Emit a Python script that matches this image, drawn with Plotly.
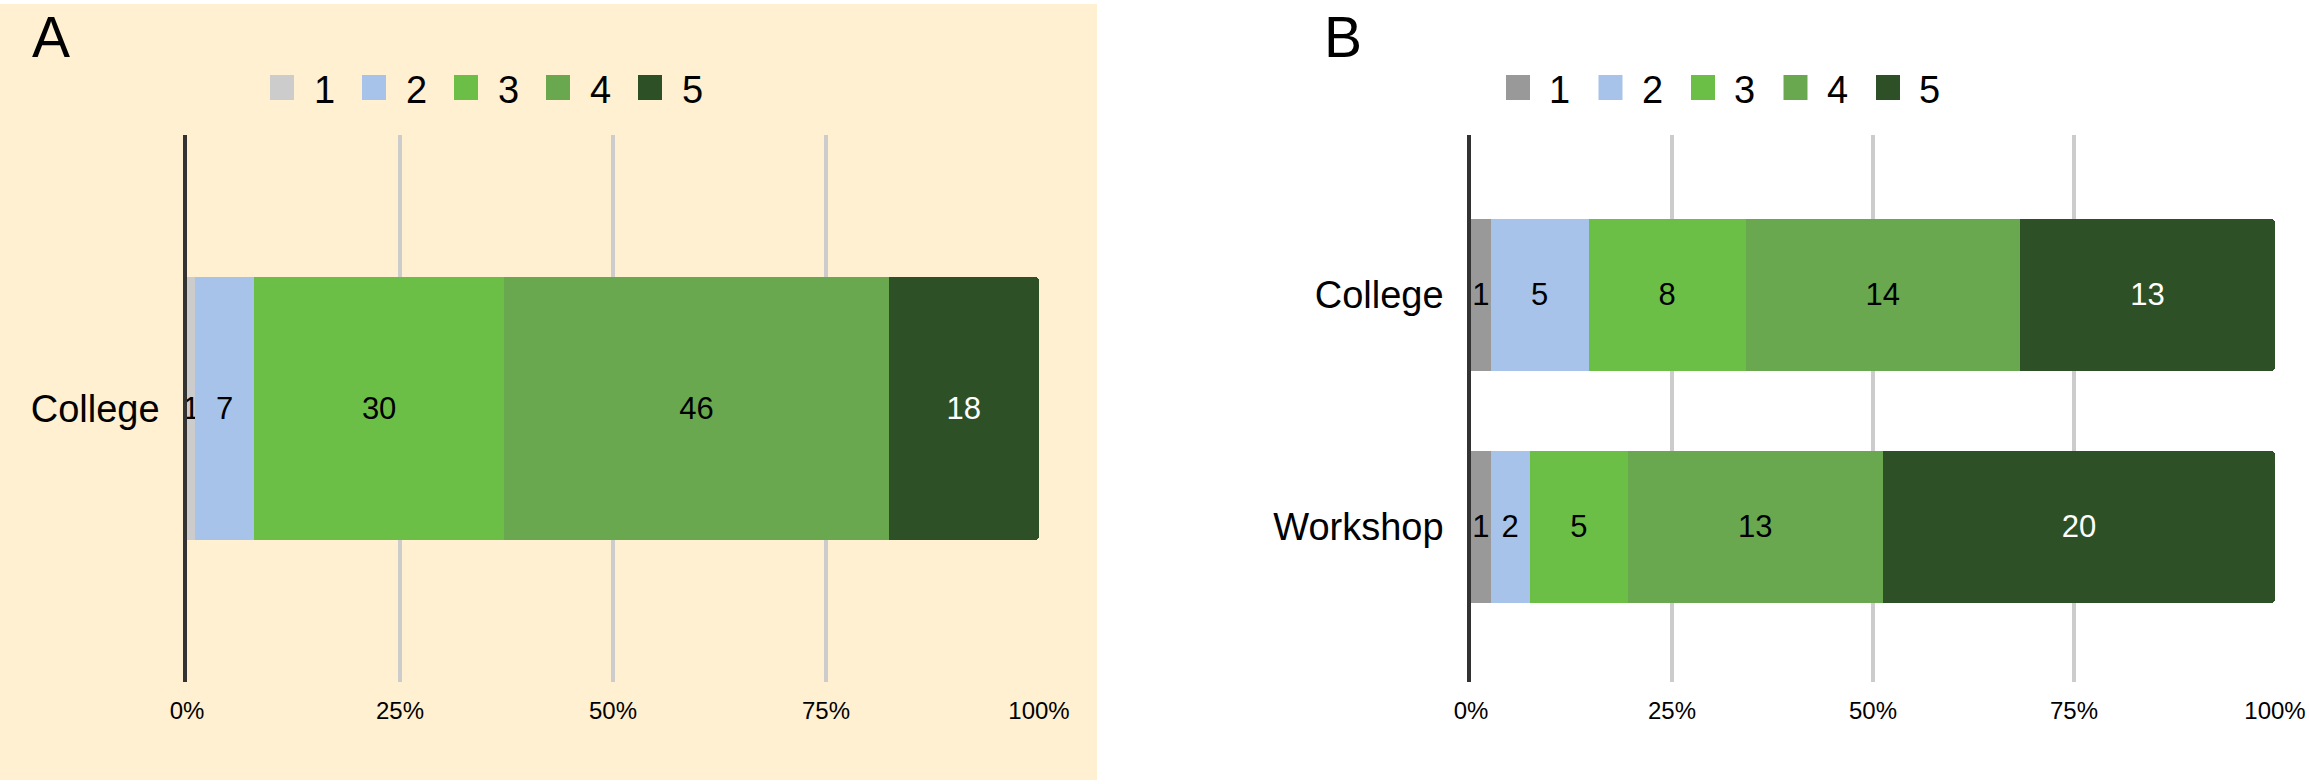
import plotly.graph_objects as go

# --- Data ---
levels = ["1", "2", "3", "4", "5"]

cats_a = ["College"]
counts_a = {"1": [1], "2": [7], "3": [30], "4": [46], "5": [18]}

cats_b = ["College", "Workshop"]
counts_b = {"1": [1, 1], "2": [5, 2], "3": [8, 5], "4": [14, 13], "5": [13, 20]}

pct_ticks = [0, 25, 50, 75, 100]
pct_labels = ["0%", "25%", "50%", "75%", "100%"]

# --- Styles ---
colors_a = ["#cccccc", "#a8c3e9", "#6cbf46", "#6aa84f", "#2d5027"]
colors_b = ["#999999", "#a8c3e9", "#6cbf46", "#6aa84f", "#2d5027"]
text_colors = ["#000000", "#000000", "#000000", "#000000", "#ffffff"]
FONT = "Liberation Sans, Arial, sans-serif"
W, H = 2309, 784


def px(x):
    return x / W


def py(y):
    return 1 - y / H


fig = go.Figure()

for i, lv in enumerate(levels):
    fig.add_trace(go.Bar(
        y=cats_a, x=counts_a[lv], orientation="h", name=lv,
        marker=dict(color=colors_a[i], line=dict(width=0)),
        text=counts_a[lv], textposition="inside", insidetextanchor="middle",
        textangle=0, constraintext="none",
        textfont=dict(size=31, color=text_colors[i], family=FONT),
        width=0.48, xaxis="x", yaxis="y", showlegend=False,
    ))
    fig.add_trace(go.Bar(
        y=cats_b, x=counts_b[lv], orientation="h", name=lv,
        marker=dict(color=colors_b[i], line=dict(width=0)),
        text=counts_b[lv], textposition="inside", insidetextanchor="middle",
        textangle=0, constraintext="none",
        textfont=dict(size=31, color=text_colors[i], family=FONT),
        width=0.656, xaxis="x2", yaxis="y2", showlegend=False,
    ))

xax = dict(
    range=[0, 100], tickvals=pct_ticks, ticktext=pct_labels,
    showgrid=True, gridcolor="#cccccc", gridwidth=3.5,
    zeroline=False, showline=False, ticks="",
    tickfont=dict(size=24, color="#000000", family=FONT),
    ticklabelstandoff=12, fixedrange=True, automargin=False,
)
yax = dict(
    showgrid=False, zeroline=False, showline=True,
    linecolor="#333333", linewidth=3.5, ticks="",
    tickfont=dict(size=38, color="#000000", family=FONT),
    ticklabelstandoff=16, fixedrange=True, automargin=False,
)

fig.update_layout(
    width=W, height=H,
    margin=dict(l=0, r=0, t=0, b=0, autoexpand=False),
    paper_bgcolor="#ffffff",
    plot_bgcolor="rgba(0,0,0,0)",
    barmode="stack", barnorm="percent", barcornerradius=4,
    font=dict(family=FONT, color="#000000"),
    showlegend=False,
    xaxis=dict(xax, domain=[px(187), px(1039)], anchor="y"),
    yaxis=dict(yax, domain=[py(682), py(135)], anchor="x",
               range=[-0.5, 0.5]),
    xaxis2=dict(xax, domain=[px(1471), px(2275)], anchor="y2"),
    yaxis2=dict(yax, domain=[py(682), py(135)], anchor="x2",
                range=[1.669, -0.69]),
)

# panel A background
fig.add_shape(type="rect", xref="paper", yref="paper",
              x0=0, x1=px(1097), y0=py(780), y1=py(4),
              fillcolor="#fef0d1", line=dict(width=0), layer="below")

# panel letters
for letter, x in [("A", 30), ("B", 1322)]:
    fig.add_annotation(text=letter, xref="paper", yref="paper",
                       x=px(x), y=py(37), xanchor="left", yanchor="middle",
                       showarrow=False,
                       font=dict(size=57, color="#000000", family=FONT))

# legends (drawn so the swatches can match the reference size)
for start, step, off, cols in [(270, 92, 42, colors_a),
                               (1506, 92.5, 41, colors_b)]:
    for i, lv in enumerate(levels):
        x0 = start + i * step
        fig.add_shape(type="rect", xref="paper", yref="paper",
                      x0=px(x0), x1=px(x0 + 24), y0=py(100), y1=py(75),
                      fillcolor=cols[i], line=dict(width=0))
        fig.add_annotation(text=lv, xref="paper", yref="paper",
                           x=px(x0 + off), y=py(90), xanchor="left",
                           yanchor="middle", showarrow=False,
                           font=dict(size=38, color="#000000", family=FONT))

# page body has a default 8px margin; remove it so the figure sits at 0,0
fig.write_html("out.html", config={"displayModeBar": False},
               post_script="document.body.style.margin='0px';")
